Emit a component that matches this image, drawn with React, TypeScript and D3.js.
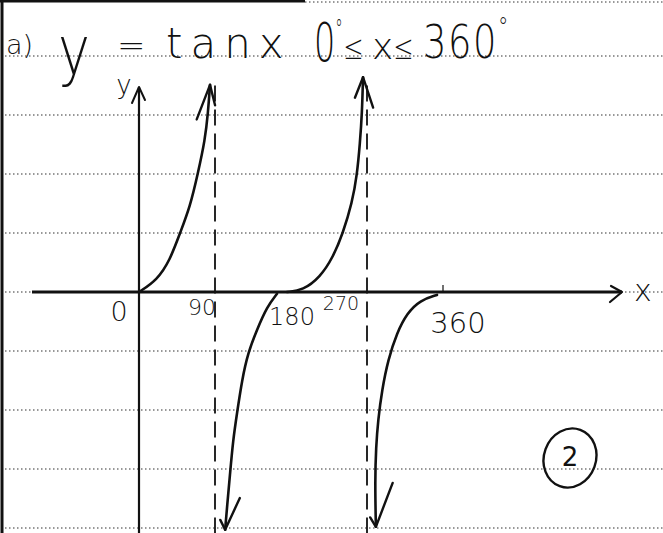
import React from "react";
import * as d3 from "d3";

const W = 663;
const H = 533;

// Notebook rule levels (one rule = one y unit) and the x axis marks in degrees.
const ruleLevels = [4, 3, 2, 1, 0, -1, -2, -3, -4];
const tickValues = [0, 90, 180, 270, 360];
const tickText = ["0", "90", "180", "270", "360"];
const asymptotes = [90, 270];

// Sketched branches of y = tan x, as [degrees, y] pairs.
const branch0to90: [number, number][] = [
  [0, 0], [21.3, 0.2], [36.7, 0.54], [48.6, 1.0], [60.4, 1.44],
  [69.9, 2.02], [78.2, 2.58], [81.7, 3.03], [84.1, 3.51],
];
const branch90to180: [number, number][] = [
  [163.4, -0.03], [151.6, -0.25], [139.7, -0.64], [129.1, -1.03], [122.0, -1.49],
  [116.1, -2.05], [111.4, -2.51], [107.9, -3.07], [104.3, -3.64], [102.0, -4.03],
];
const branch180to270: [number, number][] = [
  [175.3, 0], [194.2, 0.03], [214.4, 0.25], [229.8, 0.59], [241.6, 1.0],
  [252.3, 1.51], [258.2, 1.98], [261.7, 2.53], [264.1, 3.03], [265.3, 3.64],
];
const branch270to360: [number, number][] = [
  [352.9, -0.05], [332.8, -0.14], [317.4, -0.36], [305.5, -0.69], [294.9, -1.15],
  [287.8, -1.66], [283.1, -2.17], [280.7, -2.63], [279.5, -3.19], [280.5, -3.98],
];

const x = d3.scaleLinear().domain([0, 360]).range([139, 443]);
const y = d3.scaleLinear().domain([-4, 4]).range([528, 56]);

const line = d3
  .line<[number, number]>()
  .x((d) => x(d[0]))
  .y((d) => y(d[1]))
  .curve(d3.curveBasis);

type Wing = { len: number; turn: number };

// Open arrowhead drawn back from the last point of a branch.
function arrowHead(pts: [number, number][], wings: Wing[]): string {
  const tip = pts[pts.length - 1];
  const prev = pts[pts.length - 2];
  const tx = x(tip[0]);
  const ty = y(tip[1]);
  const back = Math.atan2(y(prev[1]) - ty, x(prev[0]) - tx);
  return wings
    .map((w) => {
      const a = back + (w.turn * Math.PI) / 180;
      return `M${tx + w.len * Math.cos(a)},${ty + w.len * Math.sin(a)}L${tx},${ty}`;
    })
    .join("");
}

const ink = "#111";
const hand = "'DejaVu Sans', 'Open Sans', sans-serif";

export default function App() {
  const axisY = y(0);
  const xStart = x.invert(32);
  const xEnd = x.invert(622);
  const yAxisTop = y.invert(87);

  const labelNudge = [
    { dx: -20, dy: 29, size: 27 },
    { dx: -13, dy: 23, size: 22 },
    { dx: 1, dy: 33, size: 24 },
    { dx: -26, dy: 18, size: 19 },
    { dx: 15, dy: 41, size: 29 },
  ];

  const branches = [
    { pts: branch0to90, wings: [{ len: 37, turn: 17 }, { len: 21, turn: -18 }] },
    { pts: branch180to270, wings: [{ len: 22, turn: 20 }, { len: 32, turn: -20 }] },
    { pts: branch90to180, wings: [{ len: 35, turn: 20 }, { len: 11, turn: -31 }] },
    { pts: branch270to360, wings: [{ len: 47, turn: 22 }, { len: 11, turn: -30 }] },
  ];

  return (
    <svg
      width={W}
      height={H}
      viewBox={`0 0 ${W} ${H}`}
      style={{ position: "absolute", left: 0, top: 0, background: "#fff" }}
    >
      {/* page edges */}
      <line x1={2} y1={0} x2={2} y2={H} stroke={ink} strokeWidth={3} />
      <line x1={0} y1={1} x2={305} y2={1} stroke={ink} strokeWidth={3} />
      <line x1={305} y1={2} x2={W} y2={2} stroke="#333" strokeWidth={1} strokeDasharray="1.5 2.5" />

      {/* ruled notebook lines */}
      {ruleLevels.map((lv) => (
        <line
          key={lv}
          x1={5}
          x2={W}
          y1={y(lv)}
          y2={y(lv)}
          stroke="#333"
          strokeWidth={1.2}
          strokeDasharray="1.5 2.5"
        />
      ))}

      {/* asymptotes */}
      {asymptotes.map((a) => (
        <line
          key={a}
          x1={x(a)}
          x2={x(a)}
          y1={y(3.5)}
          y2={H}
          stroke={ink}
          strokeWidth={1.8}
          strokeDasharray="16 8"
        />
      ))}

      {/* x axis */}
      <line x1={x(xStart)} x2={x(xEnd)} y1={axisY} y2={axisY} stroke={ink} strokeWidth={3} />
      <path
        d={`M${x(xEnd) - 11},${axisY - 6}L${x(xEnd)},${axisY}L${x(xEnd) - 12},${axisY + 10}`}
        fill="none"
        stroke={ink}
        strokeWidth={2.2}
        strokeLinecap="round"
        strokeLinejoin="round"
      />
      <line x1={x(360)} x2={x(360)} y1={axisY - 7} y2={axisY} stroke={ink} strokeWidth={1.2} />

      {/* y axis */}
      <line x1={x(0)} x2={x(0)} y1={H} y2={y(yAxisTop)} stroke={ink} strokeWidth={2.2} />
      <path
        d={`M${x(0) - 7},${y(yAxisTop) + 16}L${x(0)},${y(yAxisTop)}L${x(0) + 6},${y(yAxisTop) + 13}`}
        fill="none"
        stroke={ink}
        strokeWidth={2}
        strokeLinecap="round"
        strokeLinejoin="round"
      />

      {/* branches of tan x */}
      {branches.map((b, i) => (
        <g key={i} fill="none" stroke={ink} strokeLinecap="round" strokeLinejoin="round">
          <path d={line(b.pts) ?? ""} strokeWidth={2.6} />
          <path d={arrowHead(b.pts, b.wings)} strokeWidth={2.4} />
        </g>
      ))}

      {/* tick labels */}
      {tickValues.map((v, i) => (
        <text
          key={v}
          x={x(v) + labelNudge[i].dx}
          y={axisY + labelNudge[i].dy}
          textAnchor="middle"
          fontFamily={hand}
          fontWeight={200}
          fontSize={labelNudge[i].size}
          fill={ink}
        >
          {tickText[i]}
        </text>
      ))}

      {/* axis names */}
      <text x={643} y={axisY + 9} textAnchor="middle" fontFamily={hand} fontWeight={200} fontSize={30} fill={ink}>
        x
      </text>
      <text x={124} y={94} textAnchor="middle" fontFamily={hand} fontWeight={200} fontSize={26} fill={ink}>
        y
      </text>

      {/* heading */}
      <g fontFamily={hand} fontWeight={200} fill={ink}>
        <text x={6} y={54} fontSize={27}>a)</text>
        <text transform="translate(58,74) scale(1,1.25)" fontSize={54}>y</text>
        <text x={117} y={57} fontSize={34}>=</text>
        <text x={166} y={58} fontSize={42} letterSpacing={8}>tanx</text>
        <text transform="translate(314,61) scale(0.62,1)" fontSize={54}>
          0<tspan fontSize={24} dy={-24}>°</tspan>
        </text>
        <text x={344} y={59} fontSize={33}>≤</text>
        <text x={372} y={59} fontSize={36}>x</text>
        <text x={394} y={59} fontSize={33}>≤</text>
        <text transform="translate(423,58) scale(0.8,1)" fontSize={46} letterSpacing={2}>
          360<tspan fontSize={26} dy={-22}>°</tspan>
        </text>
      </g>

      {/* mark */}
      <ellipse cx={570} cy={458} rx={26} ry={30} fill="none" stroke={ink} strokeWidth={2.4} transform="rotate(20 570 458)" />
      <text x={570} y={466} textAnchor="middle" fontFamily={hand} fontWeight={400} fontSize={26} fill={ink}>
        2
      </text>
    </svg>
  );
}
